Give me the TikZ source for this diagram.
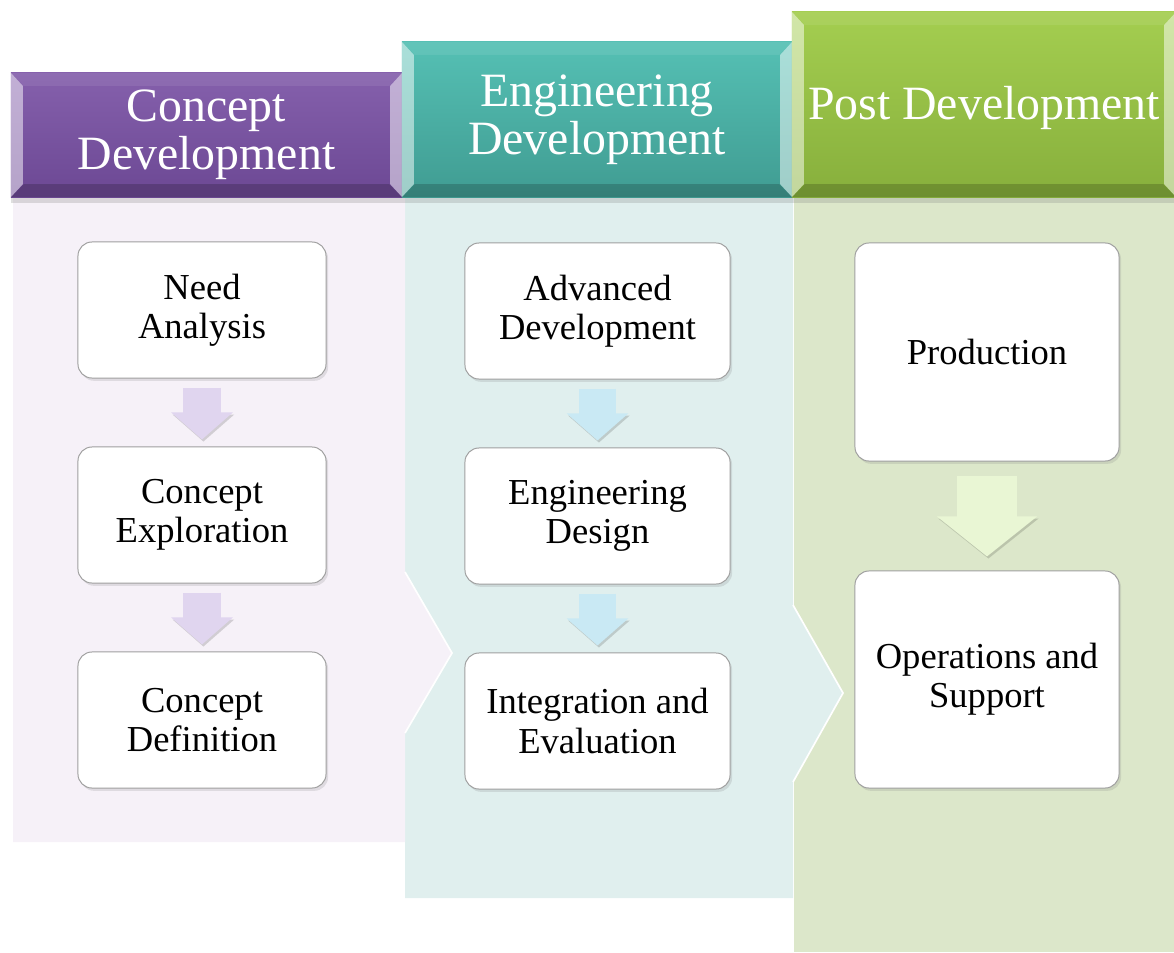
\documentclass[tikz,border=0pt]{standalone}
\usepackage{fontspec}
\setmainfont{Liberation Serif}
\usetikzlibrary{arrows.meta,calc,positioning,shadows}

\definecolor{conceptpanel}{HTML}{F6F1F8}
\definecolor{engpanel}{HTML}{E0EFEE}
\definecolor{postpanel}{HTML}{DCE7CA}
\definecolor{conceptarrow}{HTML}{E0D5EF}
\definecolor{engarrow}{HTML}{C9E9F4}
\definecolor{postarrow}{HTML}{E9F6D4}

\begin{document}
\begin{tikzpicture}[x=0.025cm,y=-0.025cm,
  header/.style={rectangle,inner sep=0pt,align=center,text=white,
    font=\fontsize{34}{34}\selectfont,
    execute at begin node={\rule{0pt}{29pt}},
    drop shadow={shadow xshift=0pt,shadow yshift=-4pt,opacity=.25},
    path picture={
      \coordinate (bnw) at (path picture bounding box.north west);
      \coordinate (bne) at (path picture bounding box.north east);
      \coordinate (bsw) at (path picture bounding box.south west);
      \coordinate (bse) at (path picture bounding box.south east);
      \fill[white,opacity=.08] (bnw) -- (bne) -- ($(bne)+(-13,13)$) -- ($(bnw)+(13,13)$) -- cycle;
      \fill[black,opacity=.18] (bsw) -- (bse) -- ($(bse)+(-13,-13)$) -- ($(bsw)+(13,-13)$) -- cycle;
      \fill[white,opacity=.5] (bnw) -- ($(bnw)+(12,13)$) -- ($(bsw)+(12,-13)$) -- (bsw) -- cycle;
      \fill[white,opacity=.5] (bne) -- ($(bne)+(-12,13)$) -- ($(bse)+(-12,-13)$) -- (bse) -- cycle;
    }},
  stage/.style={rectangle,rounded corners=0.35cm,draw=gray!75,line width=0.7pt,
    fill=white,align=center,font=\fontsize{26}{28}\selectfont,
    drop shadow={shadow xshift=1.5pt,shadow yshift=-2pt,opacity=.2}},
  flowshadow/.style={preaction={draw=black,opacity=.15,
    transform canvas={shift={(1pt,-1.5pt)}}}},
  smallflow/.style={flowshadow,line width=0.925cm,-{Triangle[width=1.5cm,length=0.675cm]},
    shorten <=0.225cm,shorten >=0.175cm},
  bigflow/.style={flowshadow,line width=1.5cm,-{Triangle[width=2.45cm,length=1cm]},
    shorten <=0.35cm,shorten >=0.35cm}]

  \useasboundingbox (0,0) rectangle (1174,952);

  % Phase panels
  \fill[postpanel] (794,197) -- (1174,197) -- (1174,952) -- (794,952) -- cycle;
  \fill[engpanel] (405,197) -- (793,197) -- (793,605) -- (843,693) -- (793,782)
    -- (793,898) -- (405,898) -- cycle;
  \draw[white,line width=1.2pt] (793,605) -- (843,693) -- (793,782);
  \fill[conceptpanel] (13,197) -- (405,197) -- (405,572) -- (452,653) -- (405,733)
    -- (405,842) -- (13,842) -- cycle;
  \draw[white,line width=1.2pt] (405,572) -- (452,653) -- (405,733);

  % Phase headers
  \node[header,top color={rgb,255:red,133;green,96;blue,172},
    bottom color={rgb,255:red,108;green,72;blue,148},
    minimum width=9.775cm,minimum height=3.1cm] (hconcept) at (206.5,135)
    {Concept\\Development};
  \node[header,top color={rgb,255:red,85;green,192;blue,180},
    bottom color={rgb,255:red,64;green,156;blue,146},
    minimum width=9.75cm,minimum height=3.875cm] (heng) at (597,119.5)
    {Engineering\\Development};
  \node[header,top color={rgb,255:red,164;green,206;blue,80},
    bottom color={rgb,255:red,135;green,175;blue,60},
    minimum width=9.6cm,minimum height=4.625cm] (hpost) at (984,104.5)
    {Post Development};

  % Concept development steps
  \node[stage,minimum width=6.2cm,minimum height=3.4cm] (need) at (202,310) {Need\\Analysis};
  \node[stage,minimum width=6.2cm,minimum height=3.4cm] (explore) at (202,515) {Concept\\Exploration};
  \node[stage,minimum width=6.2cm,minimum height=3.4cm] (define) at (202,720) {Concept\\Definition};

  % Engineering development steps
  \node[stage,minimum width=6.625cm,minimum height=3.4cm] (advanced) at (597.5,311) {Advanced\\Development};
  \node[stage,minimum width=6.625cm,minimum height=3.4cm] (design) at (597.5,516) {Engineering\\Design};
  \node[stage,minimum width=6.625cm,minimum height=3.4cm] (integrate) at (597.5,721) {Integration and\\Evaluation};

  % Post development steps
  \node[stage,minimum width=6.6cm,minimum height=5.45cm] (production) at (987,352) {Production};
  \node[stage,minimum width=6.6cm,minimum height=5.425cm] (operations) at (987,679.5) {Operations and\\Support};

  % Flow arrows
  \draw[smallflow,conceptarrow] (need) -- (explore);
  \draw[smallflow,conceptarrow] (explore) -- (define);
  \draw[smallflow,engarrow] (advanced) -- (design);
  \draw[smallflow,engarrow] (design) -- (integrate);
  \draw[bigflow,postarrow] (production) -- (operations);
\end{tikzpicture}
\end{document}
